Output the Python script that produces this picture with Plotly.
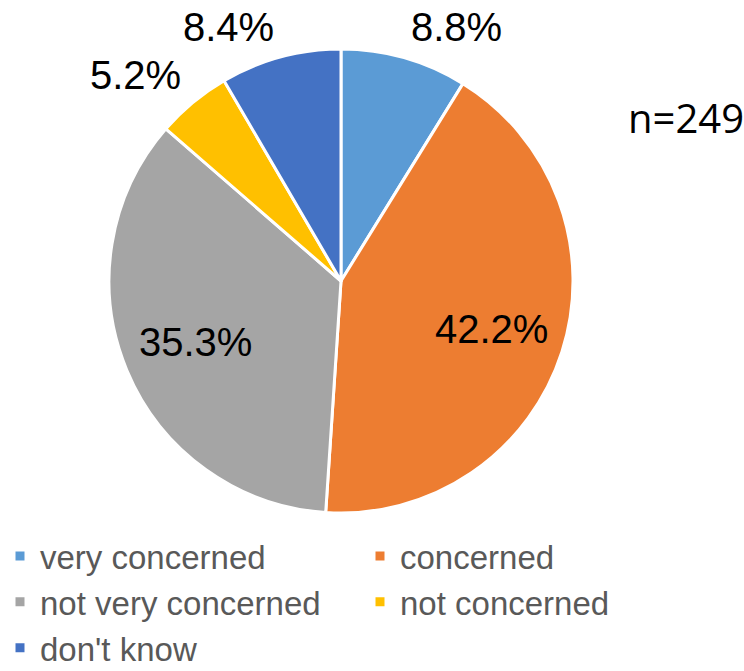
import math
import plotly.graph_objects as go

categories = ["very concerned", "concerned", "not very concerned", "not concerned", "don't know"]
values = [8.8, 42.2, 35.3, 5.2, 8.4]
labels_text = ["8.8%", "42.2%", "35.3%", "5.2%", "8.4%"]
colors = ["#5B9BD5", "#ED7D31", "#A5A5A5", "#FFC000", "#4472C4"]
label_place = ["outside", "inside", "inside", "outside", "outside"]

W, H = 744, 671
# pie geometry (pixels)
CX, CY, R = 341, 281, 232
LABEL_FONT = dict(family="Liberation Sans, Arial", size=40, color="black")

fig = go.Figure(go.Pie(
    labels=categories,
    values=values,
    textinfo="none",
    sort=False,
    direction="clockwise",
    rotation=0,
    marker=dict(colors=colors, line=dict(color="white", width=3)),
    domain=dict(x=[(CX - R) / W, (CX + R) / W], y=[1 - (CY + R) / H, 1 - (CY - R) / H]),
    hoverinfo="label+percent",
    automargin=False,
))

# data labels placed from each slice's mid-angle
total = sum(values)
cum = 0.0
for v, t, p in zip(values, labels_text, label_place):
    mid = (cum + v / 2) / total * 2 * math.pi
    cum += v
    s, c = math.sin(mid), math.cos(mid)
    if p == "inside":
        rr = 0.68 * R
        px, py = CX + rr * s, CY - rr * c
        xa = "center"
    else:
        rr = R + 16
        px, py = CX + rr * s, CY - rr * c - 15
        xa = "left" if s > 0 else "right"
    fig.add_annotation(
        text=t, x=px / W, y=1 - py / H, xref="paper", yref="paper",
        showarrow=False, xanchor=xa, yanchor="middle",
        font=LABEL_FONT,
    )

fig.add_annotation(
    text="n=249", x=686 / W, y=1 - 118 / H, xref="paper", yref="paper",
    showarrow=False, xanchor="center", yanchor="middle",
    font=dict(family="Open Sans, DejaVu Sans", size=40, color="black"),
)

fig.update_layout(
    width=W, height=H,
    margin=dict(l=0, r=0, t=0, b=0, autoexpand=False),
    paper_bgcolor="white",
    plot_bgcolor="white",
    showlegend=True,
    legend=dict(
        orientation="h",
        x=0, xanchor="left",
        y=1 - 528 / H, yanchor="top",
        entrywidth=315, entrywidthmode="pixels",
        bgcolor="rgba(0,0,0,0)",
        font=dict(family="Liberation Sans, Arial", size=33, color="#595959"),
        itemclick=False, itemdoubleclick=False,
    ),
)

fig.write_html("out.html")
